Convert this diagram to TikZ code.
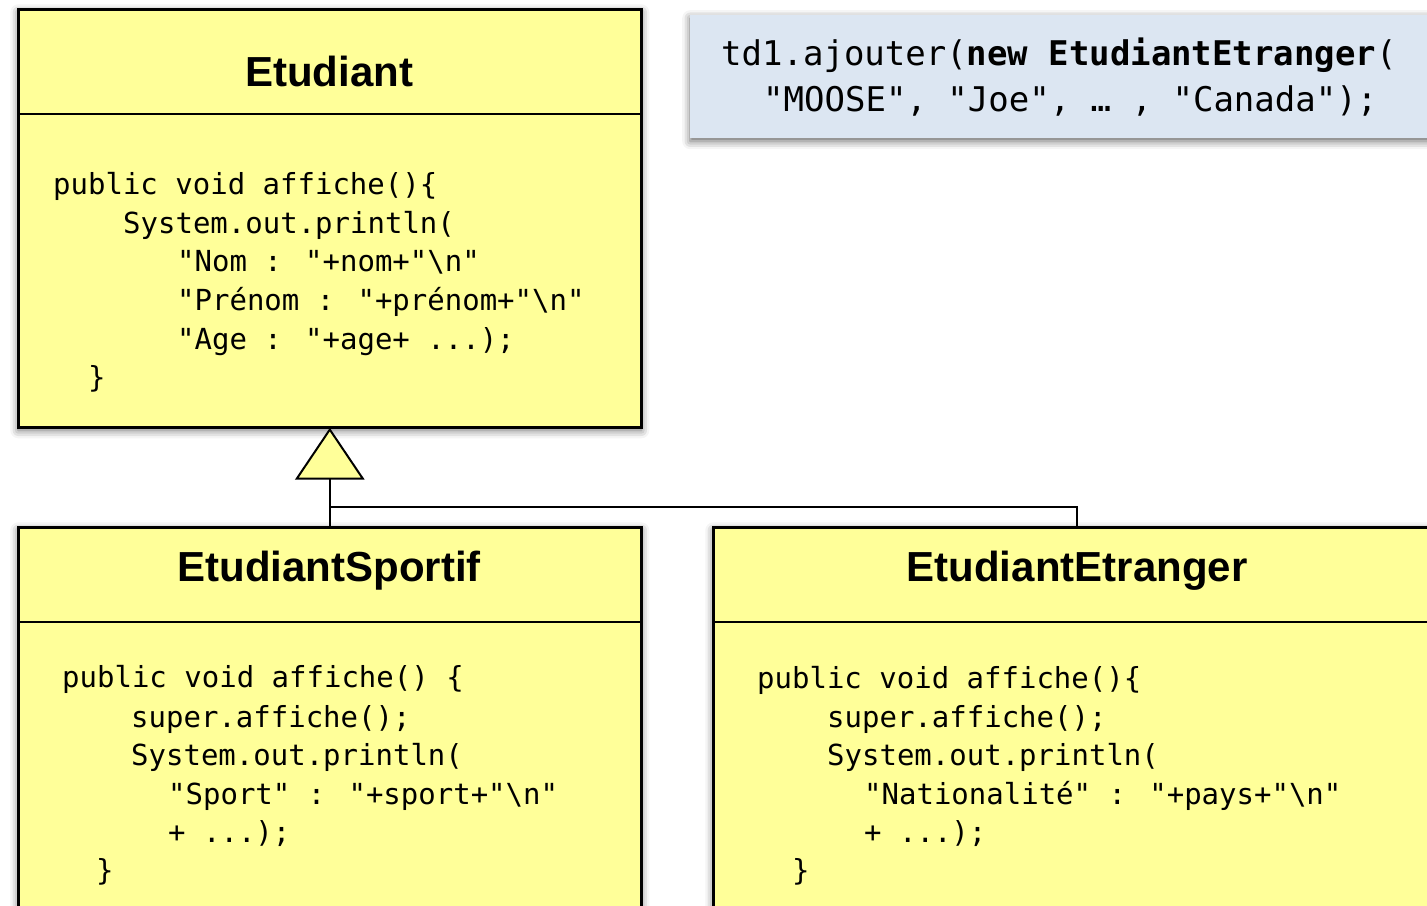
\documentclass[tikz,border=0pt]{standalone}
\usepackage{fontspec}
\setmainfont{Liberation Sans}
\newfontfamily\code{DejaVu Sans Mono}
\usetikzlibrary{shadows.blur}

\definecolor{umlfill}{RGB}{255,255,153}
\definecolor{callfill}{RGB}{220,230,242}

\begin{document}
\begin{tikzpicture}[x=1pt,y=-1pt,
  softshadow/.style={blur shadow={shadow xshift=0pt, shadow yshift=-3pt,
      shadow blur radius=8pt, shadow opacity=60}},
  classbox/.style={draw=black, line width=2.6pt, fill=umlfill, softshadow,
      rectangle, inner sep=0pt, anchor=north west},
  callbox/.style={fill=callfill, softshadow, rectangle, inner sep=0pt,
      anchor=north west},
  divider/.style={draw=black, line width=2.6pt},
  link/.style={draw=black, line width=2pt},
  title/.style={font=\fontsize{42}{48}\selectfont\bfseries, anchor=base,
      inner sep=0pt},
  codeline/.style={font=\code\fontsize{29}{38}\selectfont, anchor=base west,
      inner sep=0pt},
  callline/.style={font=\code\fontsize{34}{44}\selectfont, anchor=base west,
      inner sep=0pt}
]
\clip (0,0) rectangle (1427,905);

% call example
\node[callbox, minimum width=780pt, minimum height=123pt] (call) at (690,15) {};
\node[callline] (call1) at (721,65) {td1.ajouter(\textbf{new EtudiantEtranger}(};
\node[callline] (call2) at (763,111) {"MOOSE", "Joe", … , "Canada");};

% class boxes
\node[classbox, minimum width=623pt, minimum height=418pt] (etu) at (17,8) {};
\node[classbox, minimum width=623pt, minimum height=440pt] (spo) at (17,526) {};
\node[classbox, minimum width=728pt, minimum height=440pt] (etr) at (712,526) {};

\draw[divider] ([yshift=-106pt]etu.north west) -- ([yshift=-106pt]etu.north east);
\draw[divider] ([yshift=-96pt]spo.north west) -- ([yshift=-96pt]spo.north east);
\draw[divider] ([yshift=-96pt]etr.north west) -- ([yshift=-96pt]etr.north east);

% titles
\node[title] (tEtu) at (329,86) {Etudiant};
\node[title] (tSpo) at (329,581) {EtudiantSportif};
\node[title] (tEtr) at (1077,581) {EtudiantEtranger};

% Etudiant.affiche
\node[codeline] (e1) at (53,194) {public void affiche()\{};
\node[codeline] (e2) at (123,233) {System.out.println(};
\node[codeline] (e3) at (177,271) {"Nom : "+nom+"\textbackslash n"};
\node[codeline] (e4) at (177,310) {"Prénom : "+prénom+"\textbackslash n"};
\node[codeline] (e5) at (177,349) {"Age : "+age+ ...);};
\node[codeline] (e6) at (88,387) {\}};

% EtudiantSportif.affiche
\node[codeline] (s1) at (62,687) {public void affiche() \{};
\node[codeline] (s2) at (131,727) {super.affiche();};
\node[codeline] (s3) at (131,765) {System.out.println(};
\node[codeline] (s4) at (168,804) {"Sport" : "+sport+"\textbackslash n"};
\node[codeline] (s5) at (168,842) {+ ...);};
\node[codeline] (s6) at (96,880) {\}};

% EtudiantEtranger.affiche
\node[codeline] (n1) at (757,688) {public void affiche()\{};
\node[codeline] (n2) at (827,727) {super.affiche();};
\node[codeline] (n3) at (827,765) {System.out.println(};
\node[codeline] (n4) at (864,804) {"Nationalité" : "+pays+"\textbackslash n"};
\node[codeline] (n5) at (864,842) {+ ...);};
\node[codeline] (n6) at (792,880) {\}};

% inheritance
\coordinate (tribase) at ([yshift=-50pt]etu.south);
\coordinate (junc) at ([yshift=-78pt]etu.south);
\draw[link] (tribase) -- (spo.north);
\draw[link] (junc) -| (etr.north);
\draw[link, fill=umlfill, line join=miter]
  ([yshift=-1pt]etu.south) -- ([xshift=-33pt]tribase) -- ([xshift=33pt]tribase) -- cycle;
\end{tikzpicture}
\end{document}
